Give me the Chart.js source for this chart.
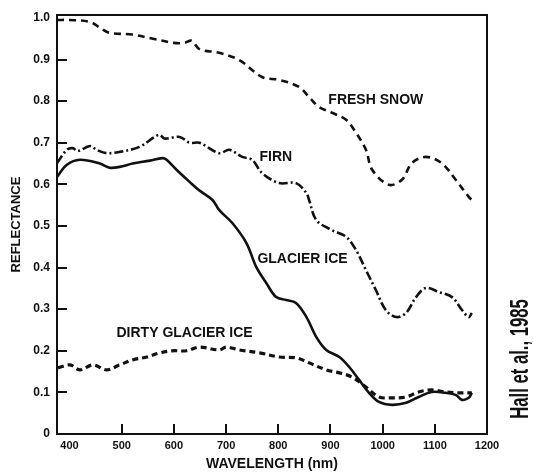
<!DOCTYPE html>
<html>
<head>
<meta charset="utf-8">
<script src="https://cdn.jsdelivr.net/npm/chart.js@4/dist/chart.umd.min.js"></script>
<style>
  html, body { margin: 0; padding: 0; background: #fff; }
  #wrap { width: 533px; height: 476px; }
</style>
</head>
<body>
<div id="wrap"><canvas id="spectra" width="533" height="476"></canvas></div>
<script>
// tick labels
const xTicks = [400, 500, 600, 700, 800, 900, 1000, 1100, 1200];
const yTicks = [0, 0.1, 0.2, 0.3, 0.4, 0.5, 0.6, 0.7, 0.8, 0.9, 1.0];

// fresh snow
const snowNm = [376, 400, 440, 460, 477, 520, 560, 600, 620, 634, 649, 687, 725, 769, 802, 840, 859, 878, 903, 930, 949, 968, 980, 1012, 1037, 1056, 1083, 1113, 1140, 1165, 1173];
const snowR = [0.995, 0.995, 0.99, 0.975, 0.964, 0.96, 0.95, 0.94, 0.94, 0.945, 0.925, 0.916, 0.899, 0.858, 0.851, 0.834, 0.81, 0.786, 0.772, 0.755, 0.724, 0.683, 0.635, 0.599, 0.611, 0.651, 0.666, 0.651, 0.611, 0.57, 0.56];

// firn
const firnNm = [376, 395, 406, 416, 439, 452, 471, 496, 534, 563, 573, 582, 611, 630, 649, 687, 706, 731, 750, 769, 802, 834, 854, 859, 873, 903, 930, 949, 968, 987, 1006, 1026, 1045, 1064, 1083, 1108, 1133, 1152, 1165, 1171];
const firnR = [0.651, 0.683, 0.687, 0.68, 0.692, 0.683, 0.675, 0.678, 0.69, 0.714, 0.719, 0.71, 0.714, 0.70, 0.70, 0.675, 0.683, 0.666, 0.659, 0.627, 0.603, 0.603, 0.579, 0.5625, 0.514, 0.49, 0.474, 0.442, 0.394, 0.346, 0.298, 0.281, 0.291, 0.329, 0.351, 0.341, 0.329, 0.298, 0.281, 0.291];

// glacier ice
const iceNm = [376, 395, 420, 458, 477, 496, 521, 554, 578, 586, 605, 630, 649, 674, 687, 712, 739, 758, 777, 796, 815, 834, 854, 873, 892, 917, 936, 955, 974, 993, 1018, 1045, 1069, 1094, 1121, 1140, 1152, 1165, 1171];
const iceR = [0.618, 0.647, 0.659, 0.65, 0.64, 0.642, 0.65, 0.657, 0.663, 0.659, 0.635, 0.606, 0.585, 0.5625, 0.538, 0.507, 0.459, 0.401, 0.363, 0.329, 0.322, 0.315, 0.281, 0.233, 0.202, 0.185, 0.161, 0.13, 0.099, 0.077, 0.07, 0.075, 0.089, 0.101, 0.099, 0.094, 0.082, 0.087, 0.099];

// dirty glacier ice
const dirtyNm = [378, 401, 420, 445, 471, 496, 521, 548, 573, 597, 624, 649, 687, 700, 725, 764, 802, 834, 859, 892, 917, 941, 968, 993, 1018, 1045, 1069, 1094, 1121, 1146, 1171];
const dirtyR = [0.159, 0.166, 0.154, 0.166, 0.154, 0.166, 0.178, 0.185, 0.195, 0.2, 0.2, 0.209, 0.202, 0.209, 0.202, 0.195, 0.185, 0.183, 0.171, 0.154, 0.147, 0.137, 0.113, 0.089, 0.087, 0.089, 0.101, 0.106, 0.101, 0.099, 0.099];

// curve labels: [text, wavelength, reflectance]
const curveLabels = [
    ["FRESH SNOW", 896, 0.803],
    ["FIRN", 764, 0.666],
    ["GLACIER ICE", 760, 0.421],
    ["DIRTY GLACIER ICE", 490, 0.243],
];

const ink = "#111";
const fontFamily = "'Liberation Sans', Arial, Helvetica, sans-serif";

function points(xs, ys) {
    return xs.map((x, i) => ({ x: x, y: ys[i] }));
}

function lineSet(label, data, dash, width) {
    return {
        label: label,
        data: data,
        borderColor: ink,
        borderWidth: width,
        borderDash: dash,
        borderCapStyle: "butt",
        pointRadius: 0,
        tension: 0.35,
        fill: false,
    };
}

// frame, inward ticks, curve names and the citation
const decorations = {
    id: "decorations",
    afterDraw(chart) {
        const ctx = chart.ctx;
        const area = chart.chartArea;
        const xs = chart.scales.x;
        const ys = chart.scales.y;
        ctx.save();
        ctx.setLineDash([]);
        ctx.strokeStyle = ink;
        ctx.fillStyle = ink;
        ctx.lineWidth = 2;
        ctx.strokeRect(area.left, area.top, area.right - area.left, area.bottom - area.top);

        // tick marks point into the plot
        xTicks.forEach((v) => {
            if (v === 400 || v === 1200) return;
            const px = Math.round(xs.getPixelForValue(v));
            ctx.fillRect(px - 1, area.bottom - 10, 2, 10);
        });
        yTicks.forEach((v) => {
            if (v === 0 || v === 1.0) return;
            const py = Math.round(ys.getPixelForValue(v));
            ctx.fillRect(area.left, py - 1, 10, 2);
        });

        ctx.font = "bold 14px " + fontFamily;
        ctx.textAlign = "left";
        ctx.textBaseline = "middle";
        curveLabels.forEach(([text, nm, r]) => {
            ctx.fillText(text, xs.getPixelForValue(nm), ys.getPixelForValue(r));
        });

        ctx.translate(521, 359);
        ctx.rotate(-Math.PI / 2);
        ctx.scale(0.64, 1);
        ctx.font = "bold 26px " + fontFamily;
        ctx.textAlign = "center";
        ctx.textBaseline = "middle";
        ctx.fillText("Hall et al., 1985", 0, 0);
        ctx.restore();
    },
};

const config = {
    type: "line",
    data: {
        datasets: [
            lineSet("Fresh snow", points(snowNm, snowR), [7, 5], 2.6),
            lineSet("Firn", points(firnNm, firnR), [9, 3, 2, 3], 2.6),
            lineSet("Glacier ice", points(iceNm, iceR), [], 2.6),
            lineSet("Dirty glacier ice", points(dirtyNm, dirtyR), [6, 4], 3.2),
        ],
    },
    options: {
        responsive: false,
        animation: false,
        layout: {
            padding: { top: 15, right: 46, left: 0, bottom: 0 },
        },
        scales: {
            x: {
                type: "linear",
                min: 376,
                max: 1200,
                afterBuildTicks: (scale) => {
                    scale.ticks = xTicks.map((v) => ({ value: v }));
                },
                afterFit: (scale) => {
                    scale.height = 42;
                },
                grid: { display: false, drawTicks: false },
                border: { display: false },
                ticks: {
                    color: ink,
                    padding: 5,
                    maxRotation: 0,
                    autoSkip: false,
                    font: { family: fontFamily, size: 11, weight: "bold" },
                    callback: (v) => String(v),
                },
                title: {
                    display: true,
                    text: "WAVELENGTH (nm)",
                    color: ink,
                    padding: { top: 0, bottom: 3 },
                    font: { family: fontFamily, size: 14, weight: "bold", lineHeight: 1.2 },
                },
            },
            y: {
                type: "linear",
                min: 0,
                max: 1.007,
                afterBuildTicks: (scale) => {
                    scale.ticks = yTicks.map((v) => ({ value: v }));
                },
                afterFit: (scale) => {
                    scale.width = 57;
                },
                grid: { display: false, drawTicks: false },
                border: { display: false },
                ticks: {
                    color: ink,
                    padding: 7,
                    autoSkip: false,
                    font: { family: fontFamily, size: 12, weight: "bold" },
                    callback: (v) => (v === 0 ? "0" : v.toFixed(1)),
                },
                title: {
                    display: true,
                    text: "REFLECTANCE",
                    color: ink,
                    padding: { top: 9, bottom: 0 },
                    font: { family: fontFamily, size: 13, weight: "bold", lineHeight: 1.2 },
                },
            },
        },
        plugins: {
            legend: { display: false },
            tooltip: { enabled: false },
        },
    },
    plugins: [decorations],
};

new Chart(document.getElementById("spectra"), config);
</script>
</body>
</html>
